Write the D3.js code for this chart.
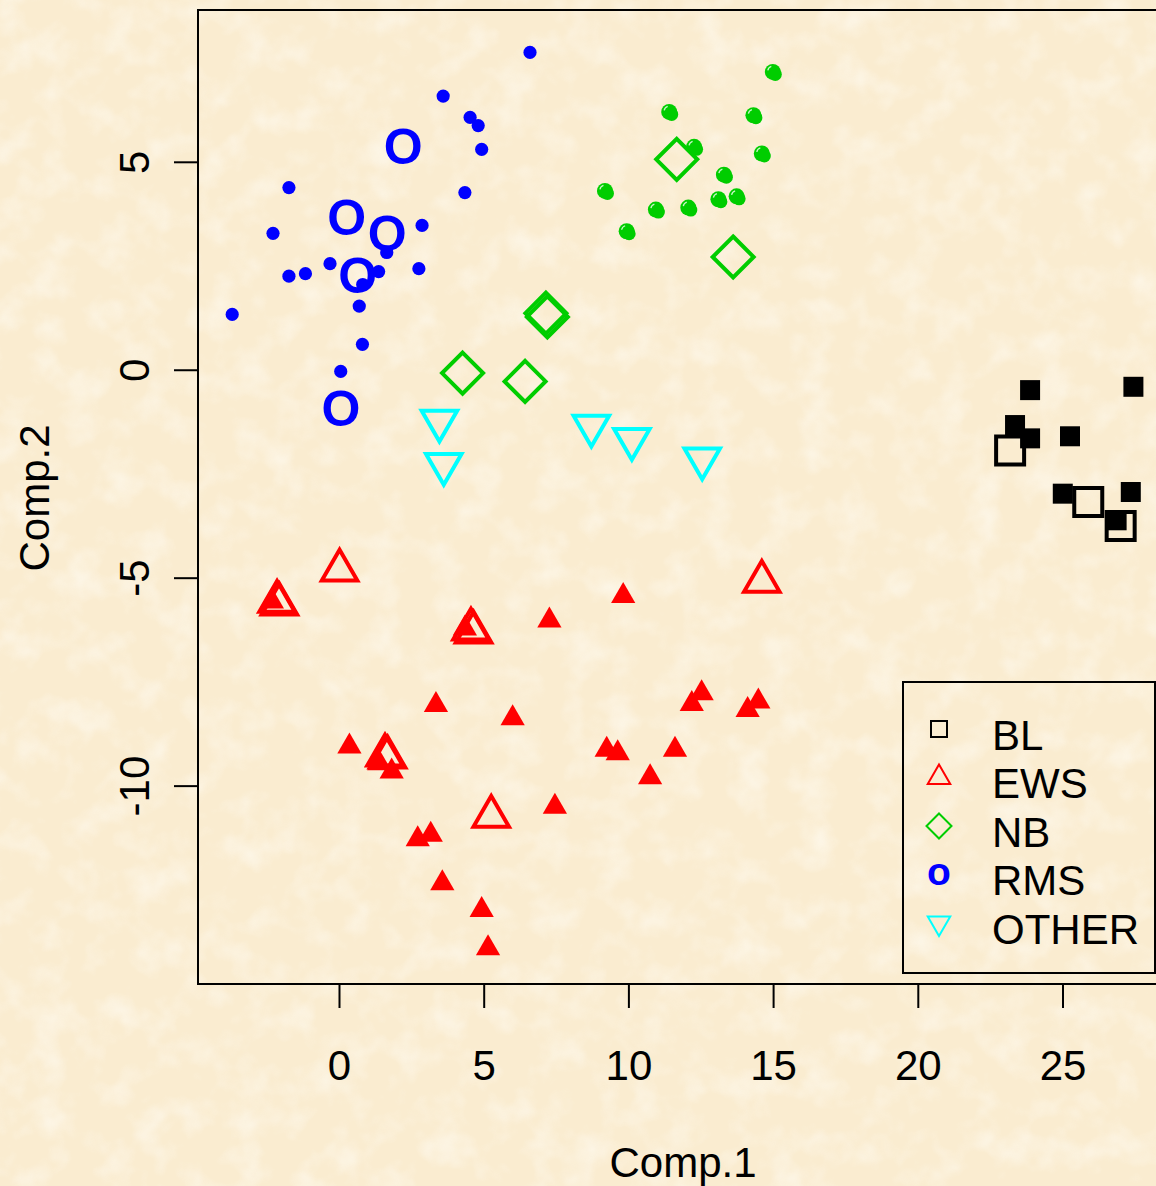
<!DOCTYPE html>
<html>
<head>
<meta charset="utf-8">
<script src="https://cdn.jsdelivr.net/npm/d3@7"></script>
<style>
  html, body { margin: 0; padding: 0; background: #FBEFD6; }
  svg { display: block; }
  text { font-family: "Liberation Sans", Arial, Helvetica, sans-serif; }
</style>
</head>
<body>
<div id="chart"></div>
<script>
// Principal component scores [Comp.1, Comp.2] for each tumour class.
// "Train" samples are drawn as small filled marks, "Test" samples as large open marks.
const blTrain = [[23.88,-0.49],[27.45,-0.41],[23.36,-1.33],[23.88,-1.65],[25.26,-1.60],
                 [25.01,-2.98],[27.36,-2.94],[26.87,-3.62]];
const blTest  = [[23.19,-1.94],[25.89,-3.18],[27.01,-3.76]];

const ewsTrain = [[7.27,-6.03],[9.82,-5.44],[3.35,-8.06],[6.00,-8.38],[0.36,-9.06],
                  [1.39,-9.46],[1.82,-9.66],[7.46,-10.51],[2.72,-11.29],[3.17,-11.18],
                  [3.57,-12.35],[4.93,-12.99],[5.15,-13.91],[12.53,-7.78],[12.19,-8.04],
                  [14.49,-7.98],[14.12,-8.18],[9.25,-9.14],[9.63,-9.22],[11.61,-9.14],
                  [10.75,-9.80],[-2.32,-5.57],[4.35,-6.22]];
const ewsTest  = [[0.02,-4.82],[-2.14,-5.57],[-2.06,-5.64],[4.56,-6.24],[4.65,-6.31],
                  [1.59,-9.27],[1.68,-9.32],[5.26,-10.74],[14.61,-5.09]];

const nbTrain = [[14.99,7.16],[11.41,6.20],[14.32,6.12],[12.27,5.36],[14.61,5.20],
                 [13.30,4.69],[9.19,4.30],[13.11,4.10],[13.74,4.17],[10.95,3.85],
                 [12.07,3.90],[9.94,3.33]];
const nbTest  = [[11.67,5.06],[13.62,2.71],[7.15,1.36],[7.20,1.27],[4.27,-0.08],[6.43,-0.28]];

const rmsTrain = [[6.60,7.63],[3.60,6.58],[4.53,6.07],[4.81,5.87],[4.93,5.30],
                  [4.35,4.26],[-1.73,4.38],[-2.28,3.28],[2.87,3.47],[-0.31,2.55],
                  [-1.73,2.25],[-1.16,2.31],[1.65,2.82],[1.37,2.36],[2.76,2.43],
                  [0.82,2.05],[-3.69,1.33],[0.70,1.53],[0.81,0.61],[0.06,-0.04]];
const rmsTest  = [[2.22,5.38],[0.27,3.67],[1.67,3.28],[0.65,2.27],[0.07,-0.91]];

const otherTest = [[3.47,-1.23],[3.62,-2.27],[8.72,-1.35],[10.12,-1.67],[12.55,-2.14]];

const classNames  = ["BL", "EWS", "NB", "RMS", "OTHER"];
const classColors = ["#000000", "#FF0000", "#00CD00", "#0000FF", "#00FFFF"];
const xTicks = [0, 5, 10, 15, 20, 25];
const yTicks = [-10, -5, 0, 5];
const xTitle = "Comp.1";
const yTitle = "Comp.2";

const W = 1156, H = 1186;
const FONT = 42;

const svg = d3.select("#chart").append("svg")
  .attr("width", W).attr("height", H)
  .attr("viewBox", `0 0 ${W} ${H}`);

// parchment background: pale base with faint lighter mottling
const defs = svg.append("defs");
const f = defs.append("filter").attr("id", "paper")
  .attr("x", 0).attr("y", 0).attr("width", "100%").attr("height", "100%");
f.append("feTurbulence").attr("type", "fractalNoise")
  .attr("baseFrequency", "0.03").attr("numOctaves", 3).attr("seed", 11);
f.append("feColorMatrix").attr("type", "matrix")
  .attr("values", "0 0 0 0 1  0 0 0 0 0.99  0 0 0 0 0.95  1.8 0 0 0 -0.8");
svg.append("rect").attr("width", W).attr("height", H).attr("fill", "#FAECD0");
svg.append("rect").attr("width", W).attr("height", H)
  .attr("filter", "url(#paper)").attr("opacity", 0.6);

// scales
const x = d3.scaleLinear().domain([-4.872, 28.3]).range([198, 1158]);
const y = d3.scaleLinear().domain([-14.77, 8.65]).range([984, 10]);

// symbol geometry
function triPath(r, up) {
  const xc = r * Math.sqrt(3) / 2, yc = r / 2;
  return up ? `M0,${-r}L${xc},${yc}L${-xc},${yc}Z`
            : `M0,${r}L${xc},${-yc}L${-xc},${-yc}Z`;
}
function diamondPath(h) { return `M0,${-h}L${h},0L0,${h}L${-h},0Z`; }
function squarePath(s) { const a = s / 2; return `M${-a},${-a}H${a}V${a}H${-a}Z`; }

const plot = svg.append("g");
const tr = d => `translate(${x(d[0])},${y(d[1])})`;

// open (test) marks first
plot.append("g").selectAll("path").data(blTest).join("path")
  .attr("transform", tr).attr("d", squarePath(28))
  .attr("fill", "none").attr("stroke", classColors[0]).attr("stroke-width", 4);
plot.append("g").selectAll("path").data(ewsTest).join("path")
  .attr("transform", tr).attr("d", triPath(20.5, true))
  .attr("fill", "none").attr("stroke", classColors[1]).attr("stroke-width", 4);
plot.append("g").selectAll("path").data(nbTest).join("path")
  .attr("transform", tr).attr("d", diamondPath(20.5))
  .attr("fill", "none").attr("stroke", classColors[2]).attr("stroke-width", 4);
plot.append("g").selectAll("text").data(rmsTest).join("text")
  .attr("x", d => x(d[0])).attr("y", d => y(d[1]) + 0.36 * 50)
  .attr("text-anchor", "middle").attr("font-size", 50).attr("font-weight", "bold")
  .attr("fill", classColors[3]).text("O");
plot.append("g").selectAll("path").data(otherTest).join("path")
  .attr("transform", tr).attr("d", triPath(20.5, false))
  .attr("fill", "none").attr("stroke", classColors[4]).attr("stroke-width", 4);

// filled (train) marks on top
plot.append("g").selectAll("path").data(blTrain).join("path")
  .attr("transform", tr).attr("d", squarePath(20)).attr("fill", classColors[0]);
plot.append("g").selectAll("path").data(ewsTrain).join("path")
  .attr("transform", tr).attr("d", triPath(14, true)).attr("fill", classColors[1]);
const nbDots = plot.append("g").selectAll("g").data(nbTrain).join("g").attr("transform", tr);
nbDots.append("circle").attr("cx", 2.5).attr("cy", 2.5).attr("r", 6.5).attr("fill", classColors[2]);
nbDots.append("circle").attr("r", 8).attr("fill", classColors[2]);
nbDots.append("path").attr("d", "M-5,-1.5A5,5 0 0 1 -1.5,-5.5")
  .attr("fill", "none").attr("stroke", "#C8F5C8").attr("stroke-width", 1.3);
plot.append("g").selectAll("circle").data(rmsTrain).join("circle")
  .attr("cx", d => x(d[0])).attr("cy", d => y(d[1])).attr("r", 6.6)
  .attr("fill", classColors[3]);

// plot frame
svg.append("rect").attr("x", 198).attr("y", 10).attr("width", 1000).attr("height", 974)
  .attr("fill", "none").attr("stroke", "#000").attr("stroke-width", 2);

// axes (plain hyphen for negative labels)
const fmt = d => String(d);
const gx = svg.append("g").attr("transform", "translate(0,984)")
  .call(d3.axisBottom(x).tickValues(xTicks).tickSize(24).tickFormat(fmt));
gx.select(".domain").remove();
gx.selectAll("line").attr("stroke", "#000").attr("stroke-width", 2);
gx.selectAll("text").attr("font-size", FONT).attr("fill", "#000")
  .attr("font-family", "Liberation Sans, Arial, sans-serif")
  .attr("y", 96).attr("dy", 0);

const gy = svg.append("g").attr("transform", "translate(198,0)")
  .call(d3.axisLeft(y).tickValues(yTicks).tickSize(24).tickFormat(fmt));
gy.select(".domain").remove();
gy.selectAll("line").attr("stroke", "#000").attr("stroke-width", 2);
gy.selectAll("text").attr("font-size", FONT).attr("fill", "#000")
  .attr("font-family", "Liberation Sans, Arial, sans-serif")
  .attr("transform", "rotate(-90)").attr("text-anchor", "middle")
  .attr("x", 0).attr("y", -49).attr("dy", 0);

// axis titles
svg.append("text").attr("x", 683).attr("y", 1177).attr("text-anchor", "middle")
  .attr("font-size", FONT).text(xTitle);
svg.append("text").attr("transform", "translate(49,498) rotate(-90)")
  .attr("text-anchor", "middle").attr("font-size", FONT).text(yTitle);

// legend
const lg = svg.append("g");
lg.append("rect").attr("x", 903).attr("y", 682).attr("width", 252).attr("height", 291)
  .attr("fill", "none").attr("stroke", "#000").attr("stroke-width", 2);
const rowY = i => 729 + i * 48.5;
const legendMarks = [
  g => g.append("path").attr("d", squarePath(16)).attr("fill", "none").attr("stroke", classColors[0]).attr("stroke-width", 2),
  g => g.append("path").attr("d", triPath(13, true)).attr("fill", "none").attr("stroke", classColors[1]).attr("stroke-width", 2),
  g => g.append("path").attr("d", diamondPath(12.5)).attr("fill", "none").attr("stroke", classColors[2]).attr("stroke-width", 2),
  g => g.append("text").attr("y", 10).attr("text-anchor", "middle").attr("font-size", 39)
        .attr("font-weight", "bold").attr("fill", classColors[3]).text("o"),
  g => g.append("path").attr("d", triPath(13, false)).attr("fill", "none").attr("stroke", classColors[4]).attr("stroke-width", 2)
];
classNames.forEach((name, i) => {
  const g = lg.append("g").attr("transform", `translate(939,${rowY(i)})`);
  legendMarks[i](g);
  lg.append("text").attr("x", 992).attr("y", rowY(i) + 5.5 + 0.358 * FONT)
    .attr("font-size", FONT).attr("fill", "#000").text(name);
});
</script>
</body>
</html>
